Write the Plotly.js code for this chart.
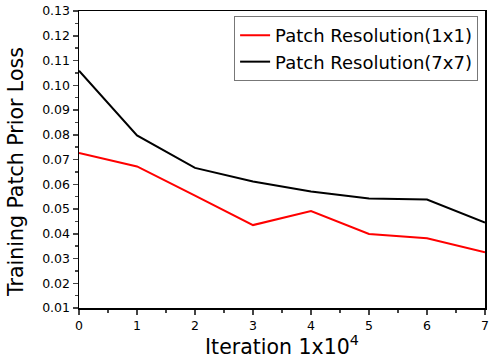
<!DOCTYPE html>
<html>
<head>
<meta charset="utf-8">
<script src="https://cdn.plot.ly/plotly-3.0.1.min.js"></script>
<style>
  html, body { margin: 0; padding: 0; background: #fff; }
  #chart { width: 495px; height: 360px; }
</style>
</head>
<body>
<div id="chart"></div>
<script>
// Iteraciones (x 10^4)
var iteraciones = [0, 1, 2, 3, 4, 5, 6, 7];

// Pérdida para cada resolución de parche
var perdida1x1 = [0.0726, 0.0672, 0.0554, 0.0435, 0.0492, 0.0399, 0.0382, 0.0325];
var perdida7x7 = [0.1059, 0.0797, 0.0666, 0.0611, 0.0571, 0.0542, 0.0538, 0.0445];

var nombres = ["Patch Resolution(1x1)", "Patch Resolution(7x7)"];
var tituloY = "Training Patch Prior Loss";
var tituloX = "Iteration 1x10<sup>4</sup>";

// DejaVu Sans es más ancha, parecida al texto estirado del original
var fuente = "DejaVu Sans, Verdana, sans-serif";

var serie1 = {
  x: iteraciones,
  y: perdida1x1,
  mode: "lines",
  type: "scatter",
  name: nombres[0],
  line: { color: "#ff0000", width: 2 }
};

var serie2 = {
  x: iteraciones,
  y: perdida7x7,
  mode: "lines",
  type: "scatter",
  name: nombres[1],
  line: { color: "#000000", width: 2 }
};

var layout = {
  width: 495,
  height: 360,
  margin: { l: 79, r: 10, t: 11, b: 52 },
  paper_bgcolor: "#ffffff",
  plot_bgcolor: "#ffffff",
  font: { family: fuente, color: "#000" },
  showlegend: true,
  legend: {
    x: 0.983,
    xanchor: "right",
    y: 0.983,
    yanchor: "top",
    bordercolor: "#777",
    borderwidth: 1,
    bgcolor: "#ffffff",
    font: { family: fuente, size: 18, color: "#000" },
    tracegroupgap: 0
  },
  // El título del eje Y va como anotación para poder bajarlo un poco
  annotations: [
    {
      text: tituloY,
      xref: "paper",
      yref: "paper",
      x: 0,
      y: 0.458,
      xanchor: "right",
      yanchor: "middle",
      xshift: -49,
      textangle: -90,
      showarrow: false,
      font: { family: fuente, size: 20.5, color: "#000" }
    }
  ],
  xaxis: {
    title: { text: tituloX, font: { size: 20.5 }, standoff: 5 },
    range: [0, 7],
    dtick: 1,
    showgrid: false,
    zeroline: false,
    showline: true,
    linecolor: "#000",
    linewidth: 1.5,
    mirror: true,
    ticks: "outside",
    ticklen: 5,
    tickwidth: 1.5,
    tickfont: { size: 12.5 },
    minor: { ticks: "outside", dtick: 0.5, ticklen: 3, tickwidth: 1.5, showgrid: false }
  },
  yaxis: {
    range: [0.01, 0.13],
    dtick: 0.01,
    tickformat: ".2f",
    showgrid: false,
    zeroline: false,
    showline: true,
    linecolor: "#000",
    linewidth: 1.5,
    mirror: true,
    ticks: "outside",
    ticklen: 5,
    tickwidth: 1.5,
    tickfont: { size: 12.5 },
    minor: { ticks: "outside", dtick: 0.005, ticklen: 3, tickwidth: 1.5, showgrid: false }
  }
};

Plotly.newPlot("chart", [serie1, serie2], layout, { displayModeBar: false, staticPlot: true });
</script>
</body>
</html>
